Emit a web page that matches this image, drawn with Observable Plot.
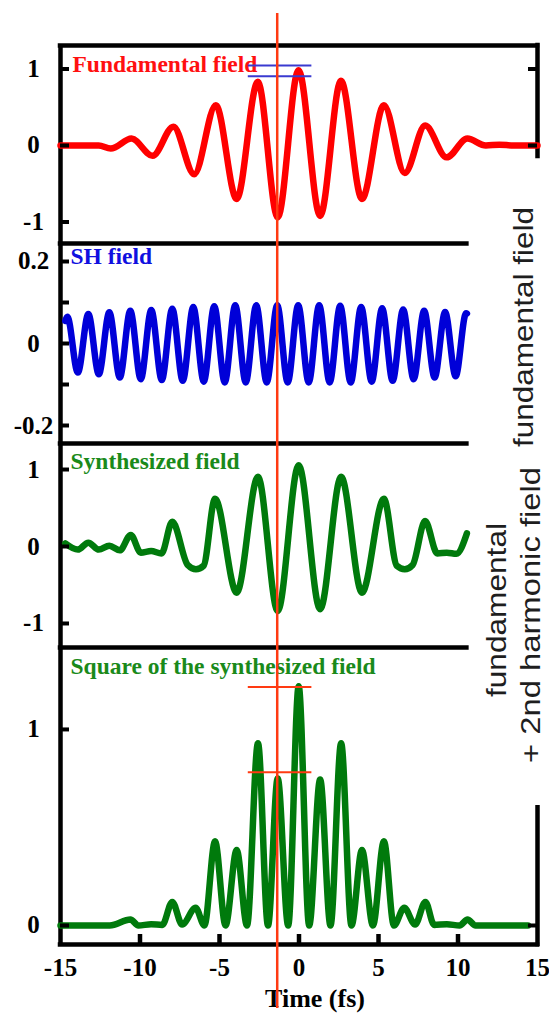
<!DOCTYPE html>
<html>
<head>
<meta charset="utf-8">
<script src="https://cdn.jsdelivr.net/npm/d3@7"></script>
<script src="https://cdn.jsdelivr.net/npm/@observablehq/plot@0.6"></script>
<style>
html, body { margin: 0; padding: 0; background: #fff; }
#chart { position: relative; width: 549px; height: 1014px; overflow: hidden; background: #fff; }
</style>
</head>
<body>
<div id="chart"></div>
<script>
// ---------- data (time in fs) ----------
const fundT = [-15, -12.6, -11.84, -10.53, -9.21, -7.9, -6.59, -5.23, -3.92, -2.59, -1.34, -0.03, 1.33, 2.64, 3.96, 5.34, 6.65, 7.94, 9.28, 10.59, 11.75, 12.6, 13.5, 15];
const fundV = [0, 0, -0.04, 0.09, -0.135, 0.245, -0.375, 0.527, -0.70, 0.833, -0.94, 0.984, -0.92, 0.846, -0.70, 0.527, -0.36, 0.26, -0.155, 0.09, 0.0, 0.01, 0, 0];

const shT = [-14.7, -14.57, -13.91, -13.25, -12.59, -11.93, -11.27, -10.61, -9.95, -9.29, -8.63, -7.97, -7.31, -6.65, -5.99, -5.33, -4.67, -4.01, -3.35, -2.69, -2.03, -1.37, -0.71, -0.05, 0.61, 1.27, 1.93, 2.59, 3.25, 3.91, 4.57, 5.23, 5.89, 6.55, 7.21, 7.87, 8.53, 9.19, 9.85, 10.51, 10.56];
const shV = [0.055, 0.065, -0.071, 0.072, -0.075, 0.076, -0.083, 0.080, -0.087, 0.082, -0.089, 0.085, -0.091, 0.089, -0.093, 0.091, -0.095, 0.093, -0.095, 0.093, -0.095, 0.093, -0.095, 0.093, -0.095, 0.093, -0.095, 0.092, -0.095, 0.089, -0.093, 0.086, -0.091, 0.083, -0.087, 0.080, -0.083, 0.077, -0.080, 0.074, 0.073];

const synT = [-14.7, -13.91, -13.25, -12.59, -11.93, -11.27, -10.58, -9.95, -9.3, -8.65, -7.97, -7.0, -6.48, -6.0, -5.28, -3.92, -2.58, -1.34, -0.02, 1.33, 2.65, 3.96, 5.34, 6.15, 6.65, 7.15, 7.93, 8.7, 9.3, 9.9, 10.56];
const synV = [0.04, -0.04, 0.05, -0.04, 0.01, -0.05, 0.15, -0.08, -0.06, -0.09, 0.32, -0.24, -0.295, -0.25, 0.62, -0.60, 0.905, -0.84, 1.056, -0.815, 0.905, -0.60, 0.62, -0.25, -0.295, -0.24, 0.33, -0.09, -0.08, -0.095, 0.17];

const sqT = [-15, -11.9, -10.6, -10.1, -9.3, -8.6, -7.97, -7.35, -6.5, -5.95, -5.28, -4.62, -3.92, -3.27, -2.58, -1.95, -1.34, -0.68, -0.02, 0.64, 1.33, 1.98, 2.65, 3.3, 3.96, 4.65, 5.34, 5.97, 6.62, 7.3, 7.95, 8.5, 9.3, 10.1, 10.6, 11.1, 14.4];
const sqV = [0, 0, 0.03, 0, 0.006, 0.003, 0.12, 0.005, 0.09, 0, 0.43, 0, 0.385, 0, 0.93, 0, 0.75, 0, 1.22, 0, 0.745, 0, 0.93, 0, 0.385, 0, 0.43, 0, 0.09, 0.005, 0.12, 0.003, 0.006, 0, 0.03, 0, 0];

// axis ticks and labels
const xTickLabels = [-15, -10, -5, 0, 5, 10, 15];
const xTickMarks = [-10, -5, 0, 5, 10];
const fundTicks = [-1, 0, 1];
const fundRightTicks = [0, 1];
const shTicks = [-0.2, -0.1, 0, 0.1, 0.2];
const shTickLabels = [-0.2, 0, 0.2];
const synTicks = [-1, 0, 1];
const sqTicks = [0, 1];
const sqRightTicks = [0];

// annotations
const cursorTime = [-1.37];
const bracketStart = -3.19, bracketEnd = 0.81;
const fundLevels = [1.046, 0.906];
const sqLevels = [1.216, 0.782];
const cutTime = 10.56;
const panelTitles = ["Fundamental field", "SH field", "Synthesized field", "Square of the synthesized field"];
const sideTitles = ["fundamental field", "fundamental", "+ 2nd harmonic field"];
const xTitle = "Time (fs)";

// ---------- layout ----------
const W = 549, ML = 60, MR = 12, FW = W - ML - MR;
const serif = "'Liberation Serif', 'Times New Roman', serif";
const INK = "#000";
const RED = "#ff0000", BLUE = "#0000d8", GREEN = "#007a0c";
const CURSOR = "#ff3a12";
const rows = (T, V) => T.map((t, i) => ({t, v: V[i]}));
const chart = document.getElementById("chart");

function panel(o) {
  const fh = o.height - o.mt - o.mb;
  const marks = [];
  marks.push(Plot.ruleX([-15], {stroke: INK, strokeWidth: 4.5}));
  if (o.drawTop) marks.push(Plot.ruleY([o.domain[1]], {stroke: INK, strokeWidth: 4.5, strokeLinecap: "square"}));
  marks.push(Plot.ruleY([o.domain[0]], {x1: -15, x2: o.bottomTo, stroke: INK, strokeWidth: 4.5, strokeLinecap: "square"}));
  if (o.rightSpan) marks.push(Plot.ruleX([15], {y1: o.rightSpan[0], y2: o.rightSpan[1], stroke: INK, strokeWidth: 4.5, strokeLinecap: "square"}));
  marks.push(Plot.line(o.data, {x: "t", y: "v", stroke: o.color, strokeWidth: 6.5, curve: "monotone-x", strokeLinejoin: "round"}));
  marks.push(Plot.tickY(o.leftTicks, {stroke: INK, strokeWidth: 4, insetRight: FW - 9}));
  if (o.rightTicks) marks.push(Plot.tickY(o.rightTicks, {stroke: INK, strokeWidth: 4, insetLeft: FW - 9}));
  marks.push(Plot.axisY({ticks: o.leftLabels, tickSize: 0, tickPadding: 0, dx: -27, textAnchor: "middle",
    tickFormat: d => String(d), fontSize: 25, fontWeight: "bold", fontFamily: serif, fill: INK, label: null}));
  marks.push(Plot.text([o.title], {text: d => d, frameAnchor: "top-left", dx: o.tdx, dy: o.tdy, lineAnchor: "bottom",
    textAnchor: "start", fill: o.titleColor, fontSize: 23.5, fontWeight: "bold", fontFamily: serif}));
  if (o.extra) marks.push(...o.extra(fh));
  marks.push(Plot.ruleX(cursorTime, {stroke: CURSOR, strokeWidth: 2.5, insetTop: o.cursorTop || 0, insetBottom: o.cursorBottom || 0}));
  const svg = Plot.plot({
    width: W, height: o.height,
    marginLeft: ML, marginRight: MR, marginTop: o.mt, marginBottom: o.mb,
    x: o.xAxis ? {domain: [-15, 15], label: null} : {domain: [-15, 15], axis: null},
    y: {domain: o.domain, label: null},
    style: `background: transparent; overflow: visible; position: absolute; left: 0; top: ${o.y0}px; font-family: ${serif}; font-weight: bold;`,
    marks
  });
  chart.appendChild(svg);
}

panel({
  y0: 0, height: 243, mt: 45, mb: 0, domain: [-1.281, 1.307], drawTop: true, bottomTo: cutTime,
  rightSpan: [-0.144, 1.307], data: rows(fundT, fundV), color: RED,
  leftTicks: fundTicks, rightTicks: fundRightTicks, leftLabels: fundTicks,
  title: panelTitles[0], titleColor: "#ff1010", tdx: 12, tdy: 26, cursorTop: -32,
  extra: () => [Plot.ruleY(fundLevels, {x1: bracketStart, x2: bracketEnd, stroke: "#3a3ad0", strokeWidth: 2})]
});
panel({
  y0: 243, height: 200, mt: 0, mb: 0, domain: [-0.2439, 0.2439], bottomTo: cutTime,
  data: rows(shT, shV), color: BLUE,
  leftTicks: shTicks, leftLabels: shTickLabels,
  title: panelTitles[1], titleColor: "#1010e0", tdx: 10, tdy: 20
});
panel({
  y0: 443, height: 204, mt: 0, mb: 0, domain: [-1.312, 1.338], bottomTo: cutTime,
  data: rows(synT, synV), color: GREEN,
  leftTicks: synTicks, leftLabels: synTicks,
  title: panelTitles[2], titleColor: "#1a8a1a", tdx: 10, tdy: 25
});
panel({
  y0: 647, height: 367, mt: 0, mb: 70, domain: [-0.097, 1.418], bottomTo: 15, xAxis: true,
  rightSpan: [-0.097, 0.6], data: rows(sqT, sqV), color: GREEN,
  leftTicks: sqTicks, rightTicks: sqRightTicks, leftLabels: sqTicks,
  title: panelTitles[3], titleColor: "#1a8a1a", tdx: 10, tdy: 26, cursorBottom: -64,
  extra: (fh) => [
    Plot.tickX(xTickMarks, {stroke: INK, strokeWidth: 4.5, insetTop: fh - 10}),
    Plot.axisX({ticks: xTickLabels, tickSize: 0, tickPadding: 14, tickFormat: d => String(d),
      fontSize: 25, fontWeight: "bold", fontFamily: serif, fill: INK, label: null}),
    Plot.text([xTitle], {text: d => d, frameAnchor: "bottom", dx: 16, dy: 62, lineAnchor: "bottom",
      fontSize: 26, fontWeight: "bold", fontFamily: serif, fill: INK}),
    Plot.ruleY(sqLevels, {x1: bracketStart, x2: bracketEnd, stroke: CURSOR, strokeWidth: 2})
  ]
});

// side captions (rotated)
const ov = d3.select(chart).append("svg")
  .attr("width", W).attr("height", 1014)
  .style("position", "absolute").style("left", "0").style("top", "0").style("overflow", "visible");
const sides = [
  {text: sideTitles[0], x: 533, y: 327, len: 240},
  {text: sideTitles[1], x: 506, y: 610, len: 174},
  {text: sideTitles[2], x: 540, y: 615, len: 296}
];
ov.selectAll("text").data(sides).join("text")
  .attr("transform", d => `translate(${d.x},${d.y}) rotate(-90)`)
  .attr("text-anchor", "middle")
  .attr("textLength", d => d.len)
  .attr("lengthAdjust", "spacingAndGlyphs")
  .attr("font-family", "'Liberation Sans', Arial, sans-serif")
  .attr("font-size", 28)
  .attr("fill", "#1e1e1e")
  .text(d => d.text);
</script>
</body>
</html>
